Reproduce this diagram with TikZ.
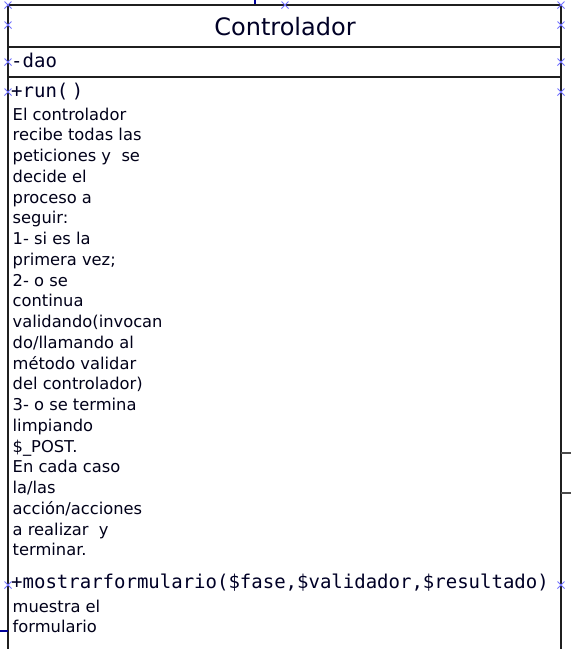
\documentclass[tikz,border=0pt]{standalone}
\usepackage{fontspec}
\setmainfont{DejaVu Sans}
\newfontfamily\monof{DejaVu Sans Mono}
\begin{document}
\begin{tikzpicture}[x=1pt,y=-1pt,
  frame/.style={line width=1.6pt,draw=black!88},
  handle/.style={draw=blue!55!white,line width=0.9pt},
  title/.style={inner sep=0pt,anchor=base,font=\fontsize{24}{24}\selectfont,text=black!85!blue},
  mono/.style={inner sep=0pt,anchor=base west,font=\monof\fontsize{19}{19}\selectfont,text=black!85!blue},
  cmt/.style={inner sep=0pt,anchor=base west,font=\fontsize{16.3}{16.3}\selectfont,text=black!90!blue},
  ext/.style={line width=1.4pt,draw=black!70}]
\useasboundingbox (0,0) rectangle (571,649);
\fill[white] (0,0) rectangle (571,649);
% class frame
\coordinate (blb) at (8,649);
\coordinate (btl) at (8,5);
\coordinate (btr) at (561,5);
\coordinate (brb) at (561,649);
\draw[frame] (blb) -- (btl) -- (btr) -- (brb);
\draw[frame] (8,47) -- (561,47);
\draw[frame] (8,77) -- (561,77);
% outside stubs
\draw[ext] (561,453) -- (571,453);
\draw[ext] (561,493) -- (571,493);
\draw[line width=1.4pt,draw=blue!60!black] (0,631) -- (8,631);
\draw[line width=1.2pt,draw=blue!60!black] (255,0) -- (255,4);
% texts
\node[title] (name) at (285,35) {Controlador};
\node[mono] (attr) at (11,67) {-dao};
\node[mono] (op1) at (11,97) {+run(\hspace{-8pt} )};
\foreach \t [count=\i] in {{El controlador},{recibe todas las},{peticiones y \ se},{decide el},{proceso a},{seguir:},{1- si es la},{primera vez;},{2- o se},{continua},{validando(invocan},{do/llamando al},{método validar},{del controlador)},{3- o se termina},{limpiando},{\$\_POST.},{En cada caso},{la/las},{acción/acciones},{a realizar \ y},{terminar.}}
  \node[cmt] (c\i) at (12.5,{120+20.76*(\i-1)}) {\t};
\node[mono] (op2) at (11,588) {+mostrarformulario(\$fase,\$validador,\$resultado)};
\node[cmt] (d1) at (12.5,612) {muestra el};
\node[cmt] (d2) at (12.5,632) {formulario};
% selection handles
\foreach \px/\py in {8/5,8/25,8/62,8/92,8/585,561/5,561/25,561/62,561/92,561/585,285/5}
  \draw[handle] (\px-3.5,\py-3.5) -- (\px+3.5,\py+3.5) (\px-3.5,\py+3.5) -- (\px+3.5,\py-3.5);
\end{tikzpicture}
\end{document}
